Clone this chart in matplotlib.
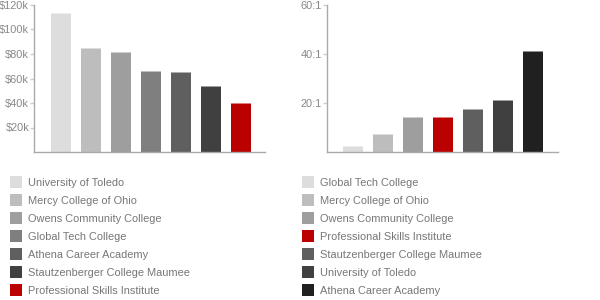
import matplotlib
matplotlib.use("Agg")
import matplotlib.pyplot as plt
from matplotlib.patches import Rectangle

plt.rcParams['font.family'] = ['Liberation Sans', 'DejaVu Sans']

# Left chart: tuition-like values (thousands of dollars)
left_names = ["University of Toledo", "Mercy College of Ohio", "Owens Community College",
              "Global Tech College", "Athena Career Academy", "Stautzenberger College Maumee",
              "Professional Skills Institute"]
left_values = [112.7, 84.0, 80.8, 65.3, 64.5, 53.0, 39.2]
left_colors = ["#dddddd", "#bdbdbd", "#9e9e9e", "#7f7f7f", "#5f5f5f", "#404040", "#bb0000"]
left_ticks = [20, 40, 60, 80, 100, 120]
left_ticklabels = ["$20k", "$40k", "$60k", "$80k", "$100k", "$120k"]

# Right chart: student-to-faculty ratio
right_names = ["Global Tech College", "Mercy College of Ohio", "Owens Community College",
               "Professional Skills Institute", "Stautzenberger College Maumee",
               "University of Toledo", "Athena Career Academy"]
right_values = [2, 7, 14, 14, 17, 21, 41]
right_colors = ["#dddddd", "#bdbdbd", "#9e9e9e", "#bb0000", "#5f5f5f", "#404040", "#202020"]
right_ticks = [20, 40, 60]
right_ticklabels = ["20:1", "40:1", "60:1"]

W, H = 600, 300
fig = plt.figure(figsize=(6, 3), dpi=100)

TXT = "#888888"
AX = "#aaaaaa"
FS = 7.9


def make_axes(x0, x1, y_top, y_bot, xlim, ymax, values, colors, ticks, ticklabels):
    ax = fig.add_axes([x0 / W, 1 - y_bot / H, (x1 - x0) / W, (y_bot - y_top) / H])
    xs = list(range(len(values)))
    ax.bar(xs, values, width=0.667, color=colors, linewidth=0)
    # thin highlight line at top of each bar
    for x, v, c in zip(xs, values, colors):
        ax.plot([x - 0.333, x + 0.333], [v, v], color=c, lw=1.2, alpha=0.6,
                solid_capstyle='butt')
    ax.set_xlim(*xlim)
    ax.set_ylim(0, ymax)
    ax.set_xticks([])
    ax.set_yticks(ticks)
    ax.set_yticklabels(ticklabels)
    ax.tick_params(axis='y', length=3, width=1, color="#cccccc", colors=TXT,
                   labelsize=FS, pad=0.5)
    for s in ['top', 'right']:
        ax.spines[s].set_visible(False)
    for s in ['left', 'bottom']:
        ax.spines[s].set_color(AX)
        ax.spines[s].set_linewidth(1)
    ax.patch.set_alpha(0)
    return ax


make_axes(34, 265, 5, 152, (-0.9, 6.8), 120, left_values, left_colors,
          left_ticks, left_ticklabels)
make_axes(327, 558, 5, 152, (-0.867, 6.83), 60, right_values, right_colors,
          right_ticks, right_ticklabels)


def legend(x_sq, x_txt, names, colors):
    for i, (n, c) in enumerate(zip(names, colors)):
        yc = 182 + 18 * i
        fig.patches.append(Rectangle((x_sq / W, 1 - (yc + 6) / H), 12 / W, 12 / H,
                                     transform=fig.transFigure, color=c, lw=0))
        fig.text(x_txt / W, 1 - (yc + 0.5) / H, n, color="#777777", fontsize=FS,
                 va='center', ha='left')


legend(10, 28, left_names, left_colors)
legend(302, 320, right_names, right_colors)

fig.savefig("out.png", dpi=100)
